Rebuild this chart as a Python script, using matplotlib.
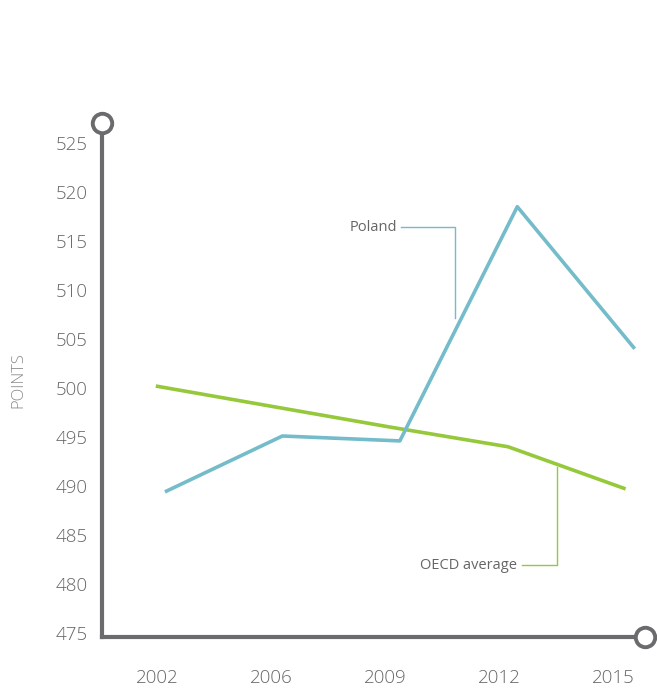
import matplotlib
matplotlib.use("Agg")
import matplotlib.pyplot as plt

years = ["2002", "2006", "2009", "2012", "2015"]
poland = [489.4, 495.1, 494.6, 518.5, 504.0]
oecd = [500.2, 498.1, 496.0, 494.0, 489.7]
yticks = [475, 480, 485, 490, 495, 500, 505, 510, 515, 520, 525]

W, H = 657, 689
plt.rcParams['font.family'] = ['Open Sans', 'DejaVu Sans']
fig = plt.figure(figsize=(W / 100, H / 100), dpi=100)
# axes spans pixel box: x 102..645, y 123..637
ax = fig.add_axes([102 / W, 1 - 637 / H, (645 - 102) / W, (637 - 123) / H])
ax.set_xlim(-0.482, 4.28)
ax.set_ylim(474.59, 527.04)

axis_col = "#6b6b6d"
text_col = "#666666"
pol_col = "#74bcc9"
oecd_col = "#95c83a"

idx = range(len(years))
xs_pol = [i * 1.03 + 0.07 for i in idx]
xs_oecd = [i * 1.03 - 0.01 for i in idx]
ax.plot(xs_oecd, oecd, color=oecd_col, lw=2.6, solid_capstyle="butt", zorder=3)
ax.plot(xs_pol, poland, color=pol_col, lw=2.6, solid_capstyle="butt", zorder=3)

for s in ["top", "right"]:
    ax.spines[s].set_visible(False)
for s in ["left", "bottom"]:
    ax.spines[s].set_color(axis_col)
    ax.spines[s].set_linewidth(3.0)

# end circles
ax.plot([0], [1], transform=ax.transAxes, marker="o", ms=14, mfc="white",
        mec=axis_col, mew=2.8, clip_on=False, zorder=5)
ax.plot([1], [0], transform=ax.transAxes, marker="o", ms=14, mfc="white",
        mec=axis_col, mew=2.8, clip_on=False, zorder=5)

ax.set_yticks(yticks)
ax.set_yticklabels([str(t) for t in yticks], fontweight="light")
ax.set_xticks(list(idx))
ax.set_xticklabels(years, fontweight="light")
ax.tick_params(axis="both", length=0, labelsize=13.5, colors=text_col)
ax.tick_params(axis="y", pad=10)
ax.tick_params(axis="x", pad=23)

fig.text(18 / W, 1 - 380 / H, "POINTS", rotation=90, ha="center", va="center",
         fontsize=12, color="#8a8a8a", fontweight="light")

# annotations
ax.text(2.105, 516.4, "Poland", ha="right", va="center", fontsize=10.5, color=text_col)
ax.plot([2.14, 2.61, 2.61], [516.4, 516.4, 507.1], color=pol_col, lw=1.0, zorder=2)
ax.text(3.16, 481.9, "OECD average", ha="right", va="center", fontsize=10.5, color=text_col)
ax.plot([3.20, 3.51, 3.51], [481.9, 481.9, 491.9], color=oecd_col, lw=1.0, zorder=2)

fig.savefig("out.png", dpi=100)
